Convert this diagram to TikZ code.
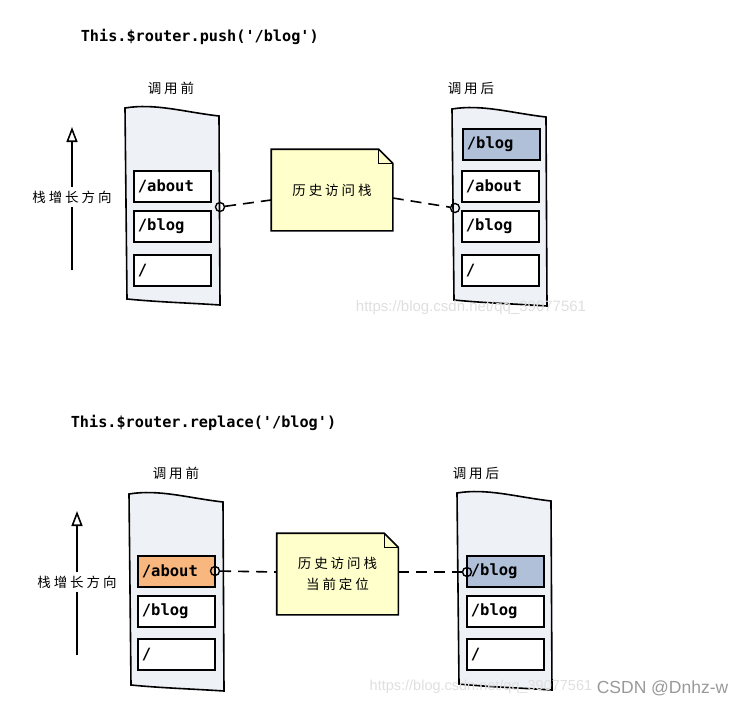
\documentclass[tikz,border=0pt]{standalone}
\usepackage{fontspec}
\setmonofont{DejaVu Sans Mono}
\setsansfont{Liberation Sans}
\newfontfamily\cjk{Noto Sans CJK SC}[LetterSpace=22]
\usetikzlibrary{arrows.meta, backgrounds}

\definecolor{sheetfill}{HTML}{EEF1F6}
\definecolor{notefill}{HTML}{FFFFCC}
\definecolor{oldtop}{HTML}{F8B77F}
\definecolor{newtop}{HTML}{B0C0D8}

\begin{document}
\begin{tikzpicture}[x=1pt, y=-1pt, line width=1.6pt,
	sheet/.style={fill=sheetfill, draw=black, line width=1.6pt},
	item/.style={draw, line width=1.8pt, minimum width=77pt, minimum height=31pt, text width=69pt, inner xsep=4pt, inner ysep=0pt, align=left, font=\ttfamily\bfseries\fontsize{15.5}{17}\selectfont},
	title/.style={anchor=west, inner xsep=0pt, font=\ttfamily\bfseries\fontsize{15.2}{17}\selectfont},
	caption/.style={font=\cjk\fontsize{13.5}{16}\selectfont},
	history/.style={minimum width=120pt, minimum height=80pt, align=center, font=\cjk\fontsize{13.5}{21}\selectfont},
	pin/.style={circle, draw, line width=1.4pt, minimum size=9pt, inner sep=0pt},
	link/.style={line width=1.6pt, dash pattern=on 11pt off 7pt},
	growarrow/.style={line width=1.6pt, -{Triangle[open, length=15pt, width=11pt, line width=1.6pt]}},
	watermark/.style={font=\sffamily\fontsize{15}{17}\selectfont, text=gray!25}
]
	\useasboundingbox (0, 0) rectangle (744, 704);

	% \drawsheet#x#y  (top left corner of the sheet)
	\def\drawsheet#1#2{
		\filldraw[sheet] (#1, #2) .. controls +(30, -5) and +(-35, -4) .. ++(94, 8) -- ++(1, 189) .. controls +(-30, -2) and +(30, 3) .. ++(-93, -6) -- cycle;
	}

	% \drawitem#x#y#name#label#fillcolor
	\def\drawitem#1#2#3#4#5{
		\node[item, fill=#5, anchor=north west] (#3) at (#1, #2) {#4};
	}

	% \drawnote#name  (outline with the folded corner)
	\def\drawnote#1{
		\begin{scope}[on background layer]
			\filldraw[fill=notefill, line width=1.6pt] (#1.north west) -- ([xshift=-14pt]#1.north east) -- ([yshift=-14pt]#1.north east) -- (#1.south east) -- (#1.south west) -- cycle;
			\draw[line width=1.2pt] ([xshift=-14pt]#1.north east) -- ([xshift=-14pt, yshift=-14pt]#1.north east) -- ([yshift=-14pt]#1.north east);
		\end{scope}
	}

	% push
	\node[title] (push title) at (80, 37) {This.\$router.push('/blog')};
	\node[caption] (push before) at (171, 88) {调用前};
	\node[caption] (push after) at (471, 88) {调用后};

	\coordinate (push grow start) at (72, 270);
	\coordinate (push grow end) at (72, 127);
	\draw[growarrow] (push grow start) -- (push grow end);
	\node[caption, fill=white, inner xsep=1pt] (push grow label) at (72, 197) {栈增长方向};

	\drawsheet{125}{108}
	\drawitem{133}{170}{push a1}{/about}{white}
	\drawitem{133}{210}{push a2}{/blog}{white}
	\drawitem{133}{254}{push a3}{/}{white}

	\drawsheet{452}{109}
	\drawitem{462}{128}{push b0}{/blog}{newtop}
	\drawitem{461}{170}{push b1}{/about}{white}
	\drawitem{461}{210}{push b2}{/blog}{white}
	\drawitem{461}{254}{push b3}{/}{white}

	\node[history] (push note) at (332, 190) {历史访问栈};
	\drawnote{push note}

	\node[pin] (push pin a) at (220, 207) {};
	\node[pin] (push pin b) at (455, 208) {};
	\draw[link] (push pin a) -- ([yshift=-10pt]push note.west);
	\draw[link] ([yshift=-8pt]push note.east) -- (push pin b);

	\node[watermark] (mark one) at (471, 308) {https://blog.csdn.net/qq\_39077561};

	% replace
	\node[title] (replace title) at (70, 423) {This.\$router.replace('/blog')};
	\node[caption] (replace before) at (176, 473) {调用前};
	\node[caption] (replace after) at (476, 473) {调用后};

	\coordinate (replace grow start) at (77, 655);
	\coordinate (replace grow end) at (77, 511);
	\draw[growarrow] (replace grow start) -- (replace grow end);
	\node[caption, fill=white, inner xsep=1pt] (replace grow label) at (77, 582) {栈增长方向};

	\drawsheet{129}{494}
	\drawitem{137}{555}{replace a1}{/about}{oldtop}
	\drawitem{137}{595}{replace a2}{/blog}{white}
	\drawitem{137}{638}{replace a3}{/}{white}

	\drawsheet{457}{493}
	\drawitem{466}{555}{replace b1}{/blog}{newtop}
	\drawitem{466}{595}{replace b2}{/blog}{white}
	\drawitem{466}{638}{replace b3}{/}{white}

	\node[history] (replace note) at (337.5, 574) {历史访问栈\\当前定位};
	\drawnote{replace note}

	\node[pin] (replace pin a) at (215, 571) {};
	\node[pin] (replace pin b) at (467, 572) {};
	\draw[link] (replace pin a) -- ([yshift=2pt]replace note.west);
	\draw[link] ([yshift=2pt]replace note.east) -- (replace pin b);

	\node[watermark, anchor=east, inner xsep=0pt, font=\sffamily\fontsize{14.5}{17}\selectfont] (mark two) at (593, 687) {https://blog.csdn.net/qq\_39077561};
	\node[watermark, anchor=west, inner xsep=0pt, text=gray!80, font=\sffamily\fontsize{17.5}{19}\selectfont] (mark three) at (596, 688) {CSDN @Dnhz-w};
\end{tikzpicture}
\end{document}
